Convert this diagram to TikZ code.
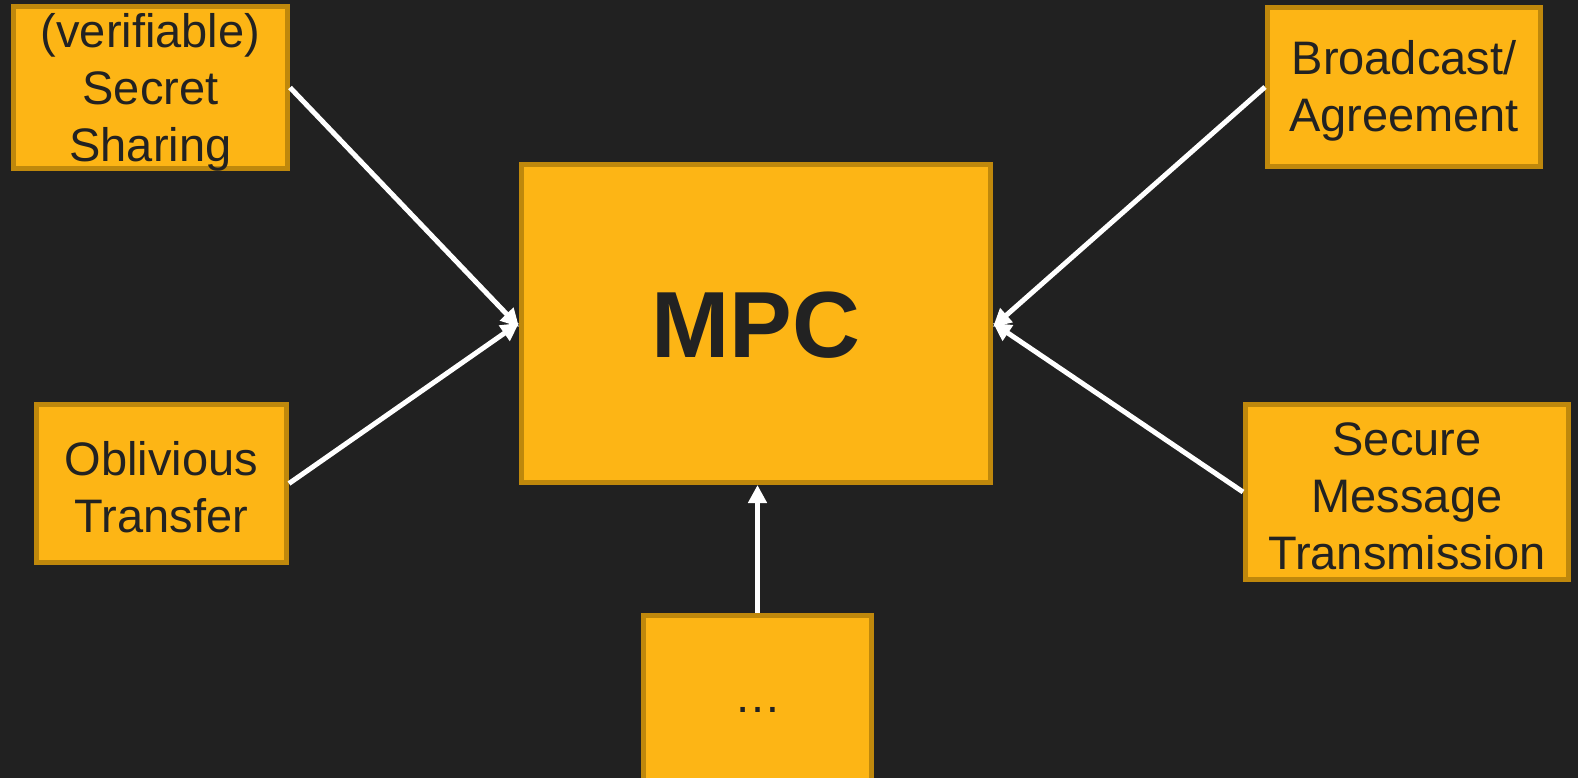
\documentclass[tikz,border=0pt]{standalone}
\usepackage{fontspec}
\setmainfont{Liberation Sans}
\usetikzlibrary{arrows.meta,calc}
\definecolor{bg}{HTML}{212121}
\definecolor{gold}{HTML}{FDB515}
\definecolor{goldedge}{HTML}{BF880C}
\definecolor{ink}{HTML}{222222}
\tikzset{
  block/.style={draw=goldedge, line width=5pt, fill=gold, inner sep=0pt},
  lbl/.style={text=ink, inner sep=0pt, align=center,
    font=\fontsize{47}{57}\selectfont},
  feed/.style={draw=white, line width=5pt,
    -{Triangle[length=18pt,width=18pt]}}
}
\begin{document}
\begin{tikzpicture}[x=1pt,y=-1pt]
  \fill[bg] (0,0) rectangle (1578,778);
  \useasboundingbox (0,0) rectangle (1578,778);
  \clip (0,0) rectangle (1578,778);

  % central protocol box
  \node[block, minimum width=469pt, minimum height=318pt] (mpc) at (756,323.5) {};
  \node[lbl, font=\fontsize{94}{110}\bfseries\selectfont]
    (mpctext) at ([yshift=-2pt]mpc.center) {MPC};

  % building blocks
  \node[block, minimum width=274pt, minimum height=162pt] (ss) at (150.5,87.5) {};
  \node[lbl] (sstext) at ([yshift=-5pt]ss.center) {(verifiable)\\Secret\\Sharing};

  \node[block, minimum width=250pt, minimum height=158pt] (ot) at (161.5,483.5) {};
  \node[lbl] (ottext) at ([yshift=-4pt]ot.center) {Oblivious\\Transfer};

  \node[block, minimum width=273pt, minimum height=159pt] (ba) at (1404,87) {};
  \node[lbl] (batext) at ([yshift=-4pt]ba.center) {Broadcast/\\Agreement};

  \node[block, minimum width=323pt, minimum height=175pt] (smt) at (1407,492) {};
  \node[lbl] (smttext) at ([yshift=-4pt]smt.center) {Secure\\Message\\Transmission};

  \node[block, minimum width=228pt, minimum height=172pt] (etc) at (757.5,701.5) {};
  \node[lbl, anchor=base] (etctext) at (757.5,712) {…};

  % connectors into the central box
  \draw[feed] (ss.east) -- ($(mpc.west)+(0,3.5)$);
  \draw[feed] (ot.east) -- ($(mpc.west)+(0,-0.5)$);
  \draw[feed] (ba.west) -- ($(mpc.east)+(0,3.5)$);
  \draw[feed] (smt.west) -- ($(mpc.east)+(0,-0.5)$);
  \draw[feed] (etc.north) -- (etc.north |- mpc.south);
\end{tikzpicture}
\end{document}
